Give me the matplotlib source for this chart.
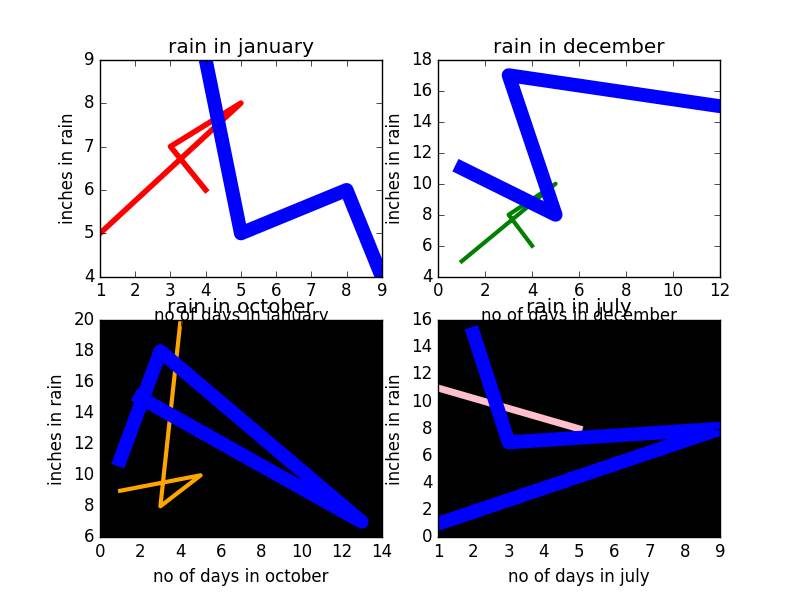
import matplotlib
matplotlib.use("Agg")
import matplotlib.pyplot as plt

plt.style.use("classic")

# small series (x, y)
jan_x = [1, 5, 3, 4]
jan_y = [5, 8, 7, 6]
jan_blue_x = [3.5, 5, 8, 9]
jan_blue_y = [11, 5, 6, 4]

dec_x = [1, 5, 3, 4]
dec_y = [5, 10, 8, 6]
dec_blue_x = [1, 5, 3, 12]
dec_blue_y = [11, 8, 17, 15]

oct_x = [1, 5, 3, 4]
oct_y = [9, 10, 8, 20]
oct_blue_x = [1, 3, 13, 2]
oct_blue_y = [11, 18, 7, 15]

jul_x = [1, 5]
jul_y = [11, 8]
jul_blue_x = [2, 3, 9, 1]
jul_blue_y = [15, 7, 8, 1]

fig = plt.figure(figsize=(8, 5.97), dpi=100)

ax1 = fig.add_subplot(221)
ax1.plot(jan_x, jan_y, color="red", linewidth=4)
ax1.plot(jan_blue_x, jan_blue_y, color="blue", linewidth=10)
ax1.set_xlim(1, 9)
ax1.set_ylim(4, 9)
ax1.set_title("rain in january")
ax1.set_xlabel("no of days in january")
ax1.set_ylabel("inches in rain")

ax2 = fig.add_subplot(222)
ax2.plot(dec_x, dec_y, color="green", linewidth=3)
ax2.plot(dec_blue_x, dec_blue_y, color="blue", linewidth=10)
ax2.set_xlim(0, 12)
ax2.set_ylim(4, 18)
ax2.set_title("rain in december")
ax2.set_xlabel("no of days in december")
ax2.set_ylabel("inches in rain")

ax3 = fig.add_subplot(223, facecolor="black")
ax3.plot(oct_x, oct_y, color="orange", linewidth=3)
ax3.plot(oct_blue_x, oct_blue_y, color="blue", linewidth=10)
ax3.set_xlim(0, 14)
ax3.set_ylim(6, 20)
ax3.set_title("rain in october")
ax3.set_xlabel("no of days in october")
ax3.set_ylabel("inches in rain")

ax4 = fig.add_subplot(224, facecolor="black")
ax4.plot(jul_x, jul_y, color="pink", linewidth=5)
ax4.plot(jul_blue_x, jul_blue_y, color="blue", linewidth=10)
ax4.set_xlim(1, 9)
ax4.set_ylim(0, 16)
ax4.set_title("rain in july")
ax4.set_xlabel("no of days in july")
ax4.set_ylabel("inches in rain")

fig.savefig("out.png", dpi=100)
